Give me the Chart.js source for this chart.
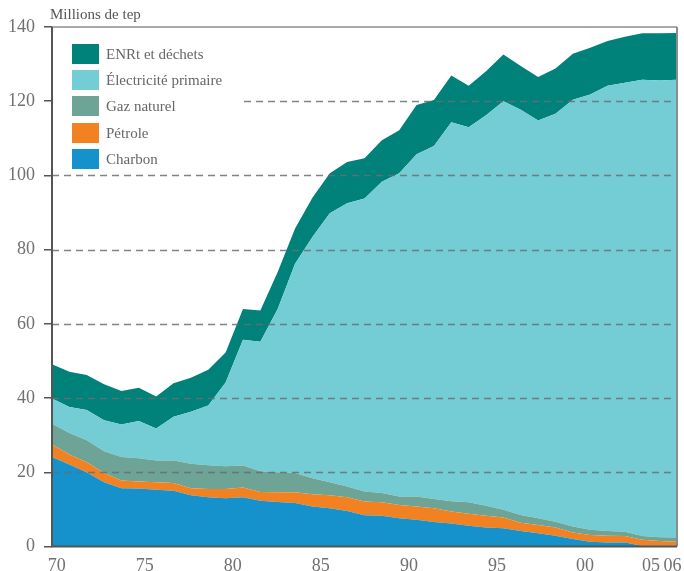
<!DOCTYPE html>
<html>
<head>
<meta charset="utf-8">
<script src="https://cdn.jsdelivr.net/npm/chart.js@4.4.1/dist/chart.umd.min.js"></script>
<style>
  html, body { margin: 0; padding: 0; background: #fff; }
  #wrap { position: relative; width: 684px; height: 571px; }
  #unit { position: absolute; left: 50px; top: 6px; font: 15px "Liberation Serif", "DejaVu Serif", serif; color: #555; }
  #legend { position: absolute; left: 53px; top: 29px; width: 190px; height: 142px; background: #fff; }
  .item { position: absolute; left: 19px; height: 20px; font: 15px "Liberation Serif", serif; color: #666; white-space: nowrap; }
  .sw { position: absolute; left: 0; top: 0; width: 27px; height: 20px; }
  .lb { position: absolute; left: 34px; top: 1px; line-height: 18px; }
</style>
</head>
<body>
<div id="wrap">
  <canvas id="c" width="684" height="571"></canvas>
  <div id="unit">Millions de tep</div>
  <div id="legend"></div>
</div>
<script>
const years = ["1970","1971","1972","1973","1974","1975","1976","1977","1978","1979","1980","1981","1982","1983","1984","1985","1986","1987","1988","1989","1990","1991","1992","1993","1994","1995","1996","1997","1998","1999","2000","2001","2002","2003","2004","2005","2006"];
const xTickLabels = ["70", "75", "80", "85", "90", "95", "00", "05", "06"];
const yTicks = [0, 20, 40, 60, 80, 100, 120, 140];

const charbon = [24.1, 22.1, 20.0, 17.3, 15.7, 15.6, 15.3, 15.0, 13.8, 13.3, 13.0, 13.3, 12.3, 12.0, 11.7, 10.8, 10.3, 9.6, 8.4, 8.3, 7.6, 7.2, 6.6, 6.2, 5.6, 5.1, 4.9, 4.2, 3.6, 2.9, 2.0, 1.3, 1.1, 1.1, 0.2, 0.2, 0.2];
const petrole = [3.4, 2.7, 2.7, 2.5, 2.1, 1.9, 2.0, 2.1, 1.9, 2.2, 2.5, 2.6, 2.4, 2.6, 2.9, 3.3, 3.5, 3.7, 3.7, 3.6, 3.6, 3.6, 3.7, 3.2, 3.2, 3.2, 2.9, 2.2, 2.2, 2.2, 1.8, 1.8, 1.8, 1.7, 1.6, 1.3, 1.1];
const gaz = [5.6, 5.8, 5.9, 5.9, 6.3, 6.3, 5.9, 6.1, 6.6, 6.4, 6.1, 5.9, 5.6, 5.4, 5.2, 4.3, 3.5, 2.9, 2.7, 2.5, 2.3, 2.7, 2.5, 2.8, 3.1, 2.7, 2.1, 2.1, 1.8, 1.6, 1.6, 1.4, 1.3, 1.2, 1.0, 1.0, 1.1];
const electricite = [6.8, 7.0, 8.2, 8.3, 8.8, 10.0, 8.6, 11.8, 14.0, 16.1, 22.6, 33.9, 34.9, 44.0, 56.4, 65.0, 72.5, 76.3, 79.0, 83.9, 87.1, 92.2, 95.1, 102.1, 101.1, 105.2, 110.1, 109.2, 107.2, 109.9, 115.0, 117.3, 120.0, 121.0, 123.0, 123.1, 123.4];
const enr = [9.2, 9.5, 9.4, 9.7, 9.0, 9.0, 8.6, 9.0, 9.2, 9.6, 8.1, 8.3, 8.4, 10.0, 9.5, 10.6, 10.8, 11.1, 10.8, 11.2, 11.6, 13.3, 12.4, 12.6, 11.2, 11.9, 12.6, 11.8, 11.7, 12.2, 12.4, 12.6, 12.0, 12.4, 12.5, 12.7, 12.6];

const seriesNames = ["Charbon", "Pétrole", "Gaz naturel", "Électricité primaire", "ENRt et déchets"];
const seriesColors = ["#1591cb", "#f28221", "#6ea495", "#74ccd4", "#00817a"];
const seriesData = [charbon, petrole, gaz, electricite, enr];

const FONT = '"Liberation Serif", "DejaVu Serif", serif';

// label axis: the original's tick labels sit on a slightly wider spacing than the data,
// with "05" and "06" squeezed against the right edge
const labelAxisMin = 1969.733, labelAxisMax = 2005.225;
const labelAxisPos = [1970, 1975, 1980, 1985, 1990, 1995, 2000, 2003.75, 2004.97];

const datasets = seriesNames.map((name, i) => ({
  label: name,
  data: seriesData[i],
  backgroundColor: seriesColors[i],
  borderColor: seriesColors[i],
  borderWidth: 0,
  pointRadius: 0,
  tension: 0,
  fill: i === 0 ? 'origin' : '-1'
}));

const overlay = {
  id: 'overlay',
  afterDatasetsDraw(chart) {
    const ctx = chart.ctx, a = chart.chartArea, y = chart.scales.y;
    ctx.save();
    ctx.strokeStyle = 'rgba(105,110,115,0.85)';
    ctx.lineWidth = 1.5;
    ctx.setLineDash([7, 5]);
    yTicks.forEach(v => {
      if (v === 0 || v === 140) return;
      const py = Math.round(y.getPixelForValue(v)) + 0.5;
      ctx.beginPath(); ctx.moveTo(a.left, py); ctx.lineTo(a.right, py); ctx.stroke();
    });
    ctx.setLineDash([]);
    ctx.strokeStyle = '#8c8c8c';
    ctx.lineWidth = 1.5;
    ctx.beginPath(); ctx.moveTo(a.left, a.top); ctx.lineTo(a.right, a.top); ctx.stroke();
    ctx.lineWidth = 2;
    ctx.beginPath(); ctx.moveTo(a.right, a.top); ctx.lineTo(a.right, a.bottom); ctx.stroke();
    ctx.strokeStyle = '#555';
    ctx.lineWidth = 2;
    ctx.beginPath(); ctx.moveTo(a.left, a.top); ctx.lineTo(a.left, a.bottom); ctx.lineTo(a.right, a.bottom); ctx.stroke();
    ctx.restore();
  }
};

const chart = new Chart(document.getElementById('c'), {
  type: 'line',
  data: { labels: years, datasets },
  options: {
    responsive: false,
    animation: false,
    layout: { padding: { left: 0, right: 7, top: 27, bottom: 0 } },
    plugins: { legend: { display: false }, tooltip: { enabled: false }, title: { display: false } },
    elements: { line: { borderWidth: 0 } },
    scales: {
      x: {
        display: false,
        offset: false
      },
      xl: {
        type: 'linear',
        position: 'bottom',
        min: labelAxisMin, max: labelAxisMax,
        grid: { display: false },
        border: { display: false },
        afterBuildTicks(s) { s.ticks = labelAxisPos.map(v => ({ value: v })); },
        ticks: {
          autoSkip: false, maxRotation: 0, minRotation: 0, padding: 1,
          color: '#707070', font: { family: FONT, size: 18 },
          callback: function(v, i) { return xTickLabels[i]; }
        },
        afterFit(s) { s.height = 24.5; s.paddingLeft = 0; s.paddingRight = 0; }
      },
      y: {
        stacked: true,
        min: 0, max: 140,
        grid: { drawOnChartArea: false, drawTicks: true, tickLength: 8, color: '#555', lineWidth: 1.5 },
        border: { display: false },
        afterBuildTicks(s) { s.ticks = yTicks.map(v => ({ value: v })); },
        ticks: { padding: 9, color: '#707070', font: { family: FONT, size: 18 } },
        afterFit(s) { s.width = 52; s.paddingTop = 0; s.paddingBottom = 0; }
      }
    }
  },
  plugins: [overlay]
});

const leg = document.getElementById('legend');
datasets.slice().reverse().forEach((d, i) => {
  const it = document.createElement('div');
  it.className = 'item';
  it.style.top = (15 + i * 26.2) + 'px';
  it.innerHTML = '<div class="sw" style="background:' + d.backgroundColor + '"></div><div class="lb"></div>';
  it.querySelector('.lb').textContent = d.label;
  leg.appendChild(it);
});
</script>
</body>
</html>
